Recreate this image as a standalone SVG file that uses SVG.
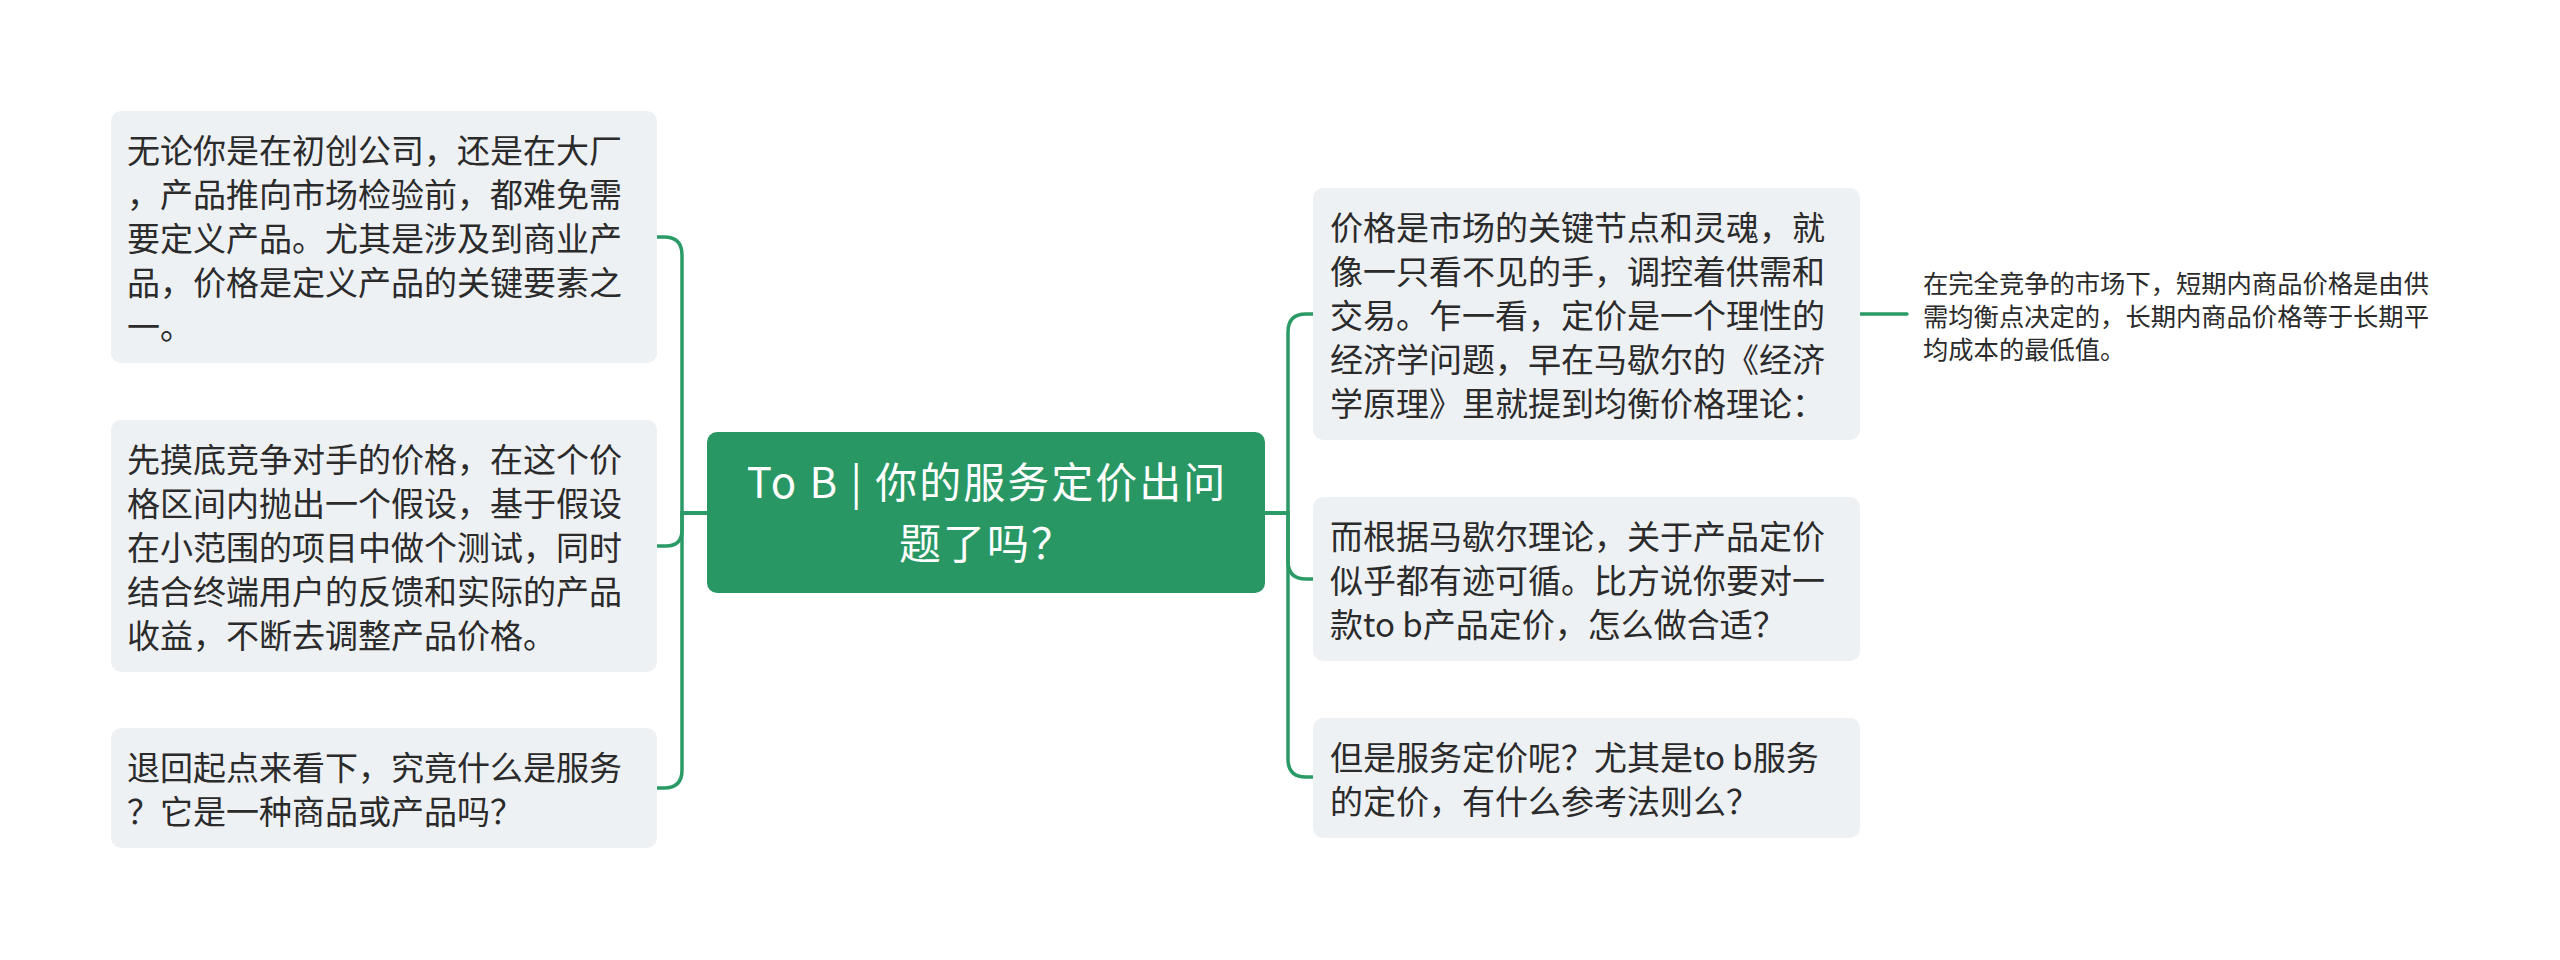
<svg xmlns="http://www.w3.org/2000/svg" width="2560" height="960" viewBox="0 0 2560 960">
<style>
.box{fill:#eef1f4}
.root{fill:#299764}
.t{font-family:"Noto Sans CJK SC","Noto Sans",sans-serif;font-size:33px;fill:#2b2b2b}
.rt{font-family:"Noto Sans CJK SC","Noto Sans",sans-serif;font-size:42px;letter-spacing:2px;fill:#ffffff;text-anchor:middle}
.st{font-family:"Noto Sans CJK SC","Noto Sans",sans-serif;font-size:25.3px;fill:#2b2b2b}
.c{fill:none;stroke:#2a9a66;stroke-width:3.5;stroke-linecap:round}
</style>
<rect width="2560" height="960" fill="#ffffff"/>
<g id="connectors">
<path class="c" d="M707 513 H682 V255 Q682 237 664 237 H657"/>
<path class="c" d="M707 513 H682 V530 Q682 546 666 546 H657"/>
<path class="c" d="M707 513 H682 V770 Q682 788 664 788 H657"/>
<path class="c" d="M1265 513 H1288 V332 Q1288 314 1306 314 H1313"/>
<path class="c" d="M1265 513 H1288 V561 Q1288 579 1306 579 H1313"/>
<path class="c" d="M1265 513 H1288 V759 Q1288 777 1306 777 H1313"/>
<path class="c" d="M1860 314 H1907"/>
</g>
<g id="root">
<rect class="root" x="707" y="432" width="558" height="161" rx="10"/>
<text class="rt" x="987" y="498">To B | 你的服务定价出问</text>
<text class="rt" x="987" y="559">题了吗？</text>
</g>
<g id="left1">
<rect class="box" x="111" y="111" width="546" height="252" rx="10"/>
<text class="t" x="127" y="163">无论你是在初创公司，还是在大厂</text>
<text class="t" x="127" y="207">，产品推向市场检验前，都难免需</text>
<text class="t" x="127" y="251">要定义产品。尤其是涉及到商业产</text>
<text class="t" x="127" y="295">品，价格是定义产品的关键要素之</text>
<text class="t" x="127" y="339">一。</text>
</g>
<g id="left2">
<rect class="box" x="111" y="420" width="546" height="252" rx="10"/>
<text class="t" x="127" y="472">先摸底竞争对手的价格，在这个价</text>
<text class="t" x="127" y="516">格区间内抛出一个假设，基于假设</text>
<text class="t" x="127" y="560">在小范围的项目中做个测试，同时</text>
<text class="t" x="127" y="604">结合终端用户的反馈和实际的产品</text>
<text class="t" x="127" y="648">收益，不断去调整产品价格。</text>
</g>
<g id="left3">
<rect class="box" x="111" y="728" width="546" height="120" rx="10"/>
<text class="t" x="127" y="780">退回起点来看下，究竟什么是服务</text>
<text class="t" x="127" y="824">？它是一种商品或产品吗？</text>
</g>
<g id="right1">
<rect class="box" x="1313" y="188" width="547" height="252" rx="10"/>
<text class="t" x="1330" y="240">价格是市场的关键节点和灵魂，就</text>
<text class="t" x="1330" y="284">像一只看不见的手，调控着供需和</text>
<text class="t" x="1330" y="328">交易。乍一看，定价是一个理性的</text>
<text class="t" x="1330" y="372">经济学问题，早在马歇尔的《经济</text>
<text class="t" x="1330" y="416">学原理》里就提到均衡价格理论：</text>
</g>
<g id="right2">
<rect class="box" x="1313" y="497" width="547" height="164" rx="10"/>
<text class="t" x="1330" y="549">而根据马歇尔理论，关于产品定价</text>
<text class="t" x="1330" y="593">似乎都有迹可循。比方说你要对一</text>
<text class="t" x="1330" y="637">款to b产品定价，怎么做合适？</text>
</g>
<g id="right3">
<rect class="box" x="1313" y="718" width="547" height="120" rx="10"/>
<text class="t" x="1330" y="770">但是服务定价呢？尤其是to b服务</text>
<text class="t" x="1330" y="814">的定价，有什么参考法则么？</text>
</g>
<g id="sub1">
<text class="st" x="1923" y="293">在完全竞争的市场下，短期内商品价格是由供</text>
<text class="st" x="1923" y="326">需均衡点决定的，长期内商品价格等于长期平</text>
<text class="st" x="1923" y="359">均成本的最低值。</text>
</g>
</svg>
